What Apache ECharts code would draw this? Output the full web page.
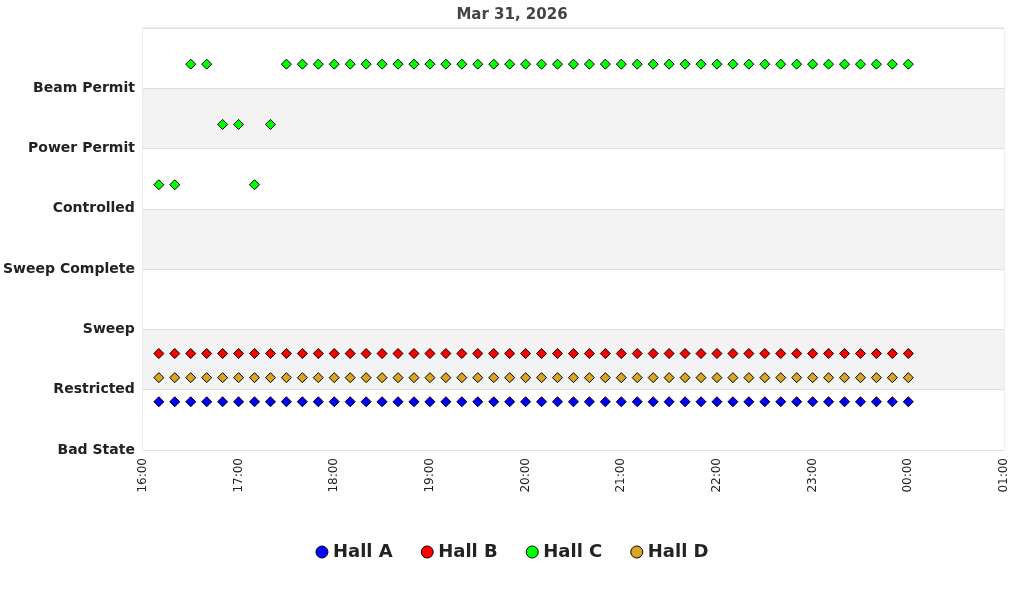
<!DOCTYPE html>
<html>
<head>
<meta charset="utf-8">
<script src="https://cdn.jsdelivr.net/npm/echarts@6/dist/echarts.min.js"></script>
<style>html,body{margin:0;padding:0;background:#fff}#chart{width:1024px;height:600px}</style>
</head>
<body>
<div id="chart"></div>
<script>
// state names, bottom to top
var stateNames = ['Bad State', 'Restricted', 'Sweep', 'Sweep Complete', 'Controlled', 'Power Permit', 'Beam Permit'];
var hallNames = ['Hall A', 'Hall B', 'Hall C', 'Hall D'];
var hallColors = ['#0000ff', '#ff0000', '#00ff00', '#daa520'];
// display offset of each hall inside its state band
var hallOffsets = [-0.2, 0.6, 0.4, 0.2];

// sample minutes after 16:00, one every 10 minutes
var sampleMinutes = [10, 20, 30, 40, 50, 60, 70, 80, 90, 100, 110, 120, 130, 140, 150, 160,
    170, 180, 190, 200, 210, 220, 230, 240, 250, 260, 270, 280, 290, 300, 310, 320,
    330, 340, 350, 360, 370, 380, 390, 400, 410, 420, 430, 440, 450, 460, 470, 480];

var hallA = [1, 1, 1, 1, 1, 1, 1, 1, 1, 1, 1, 1, 1, 1, 1, 1, 1, 1, 1, 1, 1, 1, 1, 1,
    1, 1, 1, 1, 1, 1, 1, 1, 1, 1, 1, 1, 1, 1, 1, 1, 1, 1, 1, 1, 1, 1, 1, 1];
var hallB = [1, 1, 1, 1, 1, 1, 1, 1, 1, 1, 1, 1, 1, 1, 1, 1, 1, 1, 1, 1, 1, 1, 1, 1,
    1, 1, 1, 1, 1, 1, 1, 1, 1, 1, 1, 1, 1, 1, 1, 1, 1, 1, 1, 1, 1, 1, 1, 1];
var hallC = [4, 4, 6, 6, 5, 5, 4, 5, 6, 6, 6, 6, 6, 6, 6, 6, 6, 6, 6, 6, 6, 6, 6, 6,
    6, 6, 6, 6, 6, 6, 6, 6, 6, 6, 6, 6, 6, 6, 6, 6, 6, 6, 6, 6, 6, 6, 6, 6];
var hallD = [1, 1, 1, 1, 1, 1, 1, 1, 1, 1, 1, 1, 1, 1, 1, 1, 1, 1, 1, 1, 1, 1, 1, 1,
    1, 1, 1, 1, 1, 1, 1, 1, 1, 1, 1, 1, 1, 1, 1, 1, 1, 1, 1, 1, 1, 1, 1, 1];
var hallData = [hallA, hallB, hallC, hallD];

var start = new Date(2026, 2, 31, 16, 0).getTime();
var end = new Date(2026, 3, 1, 1, 0).getTime();

var series = hallNames.map(function (name, i) {
    return {
        name: name,
        type: 'scatter',
        symbol: 'diamond',
        symbolSize: 10,
        itemStyle: {color: hallColors[i], borderColor: '#000', borderWidth: 1, opacity: 1},
        data: hallData[i].map(function (v, k) {
            return [start + sampleMinutes[k] * 60000, v + hallOffsets[i]];
        })
    };
});

var chart = echarts.init(document.getElementById('chart'));
chart.setOption({
    animation: false,
    title: {text: 'Mar 31, 2026', left: 'center', top: 3,
        textStyle: {fontSize: 15, fontWeight: 'bold', color: '#444', fontFamily: 'DejaVu Sans'}},
    legend: {
        bottom: 34, left: 'center', itemGap: 28, icon: 'circle', itemWidth: 12, itemHeight: 12,
        textStyle: {fontSize: 18, fontWeight: 'bold', color: '#222', fontFamily: 'DejaVu Sans'},
        itemStyle: {borderColor: '#000', borderWidth: 1}
    },
    grid: {left: 135, right: 20, top: 28, bottom: 150, show: true, borderColor: '#ddd', borderWidth: 1},
    xAxis: {
        type: 'time', min: start, max: end, interval: 3600000,
        axisLine: {show: false}, axisTick: {show: false}, splitLine: {show: false},
        axisLabel: {rotate: 90, color: '#222', fontSize: 12, fontFamily: 'DejaVu Sans',
            formatter: '{HH}:{mm}', hideOverlap: false, showMinLabel: true, showMaxLabel: true}
    },
    yAxis: {
        type: 'value', min: 0, max: 7, interval: 1,
        axisLine: {show: false}, axisTick: {show: false},
        splitLine: {show: true, lineStyle: {color: '#ddd'}},
        splitArea: {show: true, areaStyle: {color: ['#ffffff', '#f3f3f3']}},
        axisLabel: {color: '#222', fontSize: 14, fontWeight: 'bold', fontFamily: 'DejaVu Sans', margin: 8,
            formatter: function (v) { return stateNames[v] || ''; }}
    },
    series: series
});
</script>
</body>
</html>
